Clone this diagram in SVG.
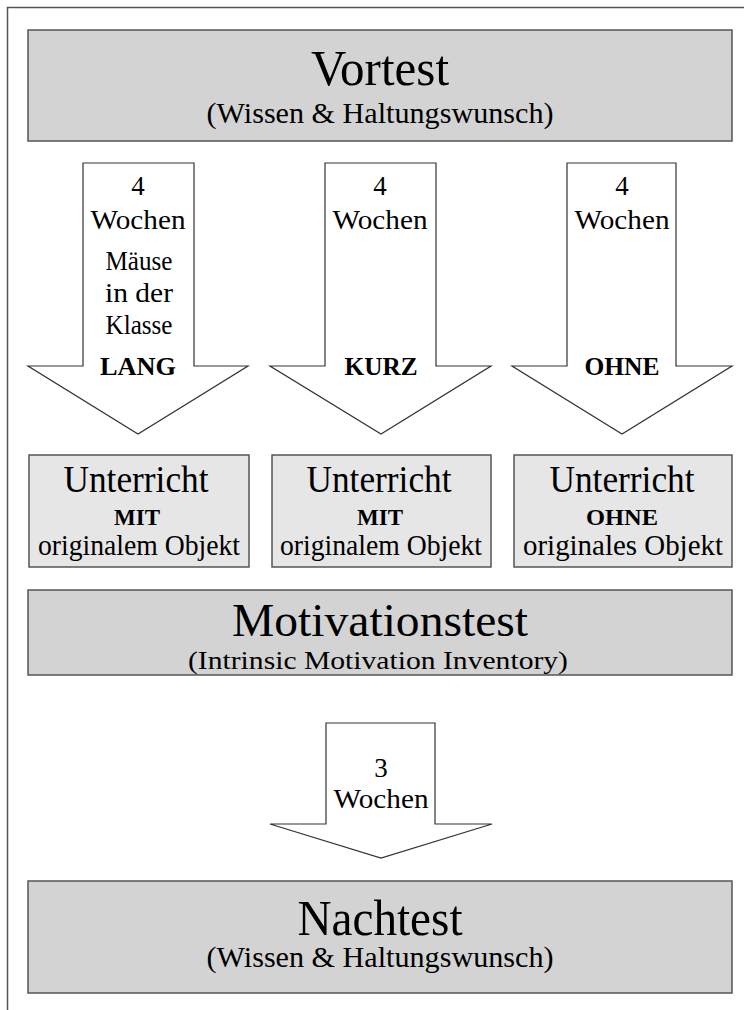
<svg xmlns="http://www.w3.org/2000/svg" width="744" height="1010" viewBox="0 0 744 1010">
<style>
text{font-family:"Liberation Serif","Times New Roman",serif;fill:#000;text-anchor:middle}
.big{fill:#d3d3d3;stroke:#555;stroke-width:1.5}
.mid{fill:#e6e6e6;stroke:#555;stroke-width:1.5}
.arr{fill:#fff;stroke:#333;stroke-width:1.2}
.t1{font-size:50px}
.t2{font-size:29px}
.t3{font-size:37px}
.b{font-size:24px;font-weight:bold}
.t4{font-size:29px}
.a{font-size:27px}
.ab{font-size:26px;font-weight:bold}
.m1{font-size:47px}
.m2{font-size:26px}
</style>
<rect x="0" y="0" width="744" height="1010" fill="#fff"/>
<path d="M7.5 1010 V7.5 H744" fill="none" stroke="#555" stroke-width="1.5"/>
<g id="connectors">
<path id="arrow-lang" class="arr" d="M83 163 H194 V366 H248 L138 434 L28 366 H83 Z"/>
<path id="arrow-kurz" class="arr" d="M325 163 H436 V366 H491 L381 434 L270 366 H325 Z"/>
<path id="arrow-ohne" class="arr" d="M567 163 H676 V366 H732 L622 434 L512 366 H567 Z"/>
<path id="arrow-3w" class="arr" d="M326 723 H435 V824 H492 L381 858 L270 824 H326 Z"/>
<text class="a" x="138" y="195">4</text>
<text class="a" x="138" y="229" textLength="95" lengthAdjust="spacingAndGlyphs">Wochen</text>
<text class="a" x="139" y="270" textLength="67" lengthAdjust="spacingAndGlyphs">Mäuse</text>
<text class="a" x="139" y="302" textLength="68" lengthAdjust="spacingAndGlyphs">in der</text>
<text class="a" x="139" y="334" textLength="67" lengthAdjust="spacingAndGlyphs">Klasse</text>
<text class="ab" x="138" y="375" textLength="76" lengthAdjust="spacingAndGlyphs">LANG</text>
<text class="a" x="380" y="195">4</text>
<text class="a" x="380" y="229" textLength="95" lengthAdjust="spacingAndGlyphs">Wochen</text>
<text class="ab" x="381" y="375" textLength="73" lengthAdjust="spacingAndGlyphs">KURZ</text>
<text class="a" x="622" y="195">4</text>
<text class="a" x="622" y="229" textLength="95" lengthAdjust="spacingAndGlyphs">Wochen</text>
<text class="ab" x="622" y="375" textLength="75" lengthAdjust="spacingAndGlyphs">OHNE</text>
<text class="a" x="381" y="777">3</text>
<text class="a" x="381" y="808" textLength="95" lengthAdjust="spacingAndGlyphs">Wochen</text>
</g>
<g id="vortest">
<rect class="big" x="28" y="30" width="704" height="111"/>
<text class="t1" x="380" y="85" textLength="138" lengthAdjust="spacingAndGlyphs">Vortest</text>
<text class="t2" x="380" y="123" textLength="347" lengthAdjust="spacingAndGlyphs">(Wissen &amp; Haltungswunsch)</text>
</g>
<g id="unterricht-lang">
<rect class="mid" x="29" y="455" width="220" height="112"/>
<text class="t3" x="136" y="492" textLength="145" lengthAdjust="spacingAndGlyphs">Unterricht</text>
<text class="b" x="137" y="525" textLength="46" lengthAdjust="spacingAndGlyphs">MIT</text>
<text class="t4" x="139" y="555" textLength="202" lengthAdjust="spacingAndGlyphs">originalem Objekt</text>
</g>
<g id="unterricht-kurz">
<rect class="mid" x="272" y="455" width="219" height="112"/>
<text class="t3" x="379" y="492" textLength="145" lengthAdjust="spacingAndGlyphs">Unterricht</text>
<text class="b" x="380" y="525" textLength="46" lengthAdjust="spacingAndGlyphs">MIT</text>
<text class="t4" x="381" y="555" textLength="202" lengthAdjust="spacingAndGlyphs">originalem Objekt</text>
</g>
<g id="unterricht-ohne">
<rect class="mid" x="514" y="455" width="218" height="112"/>
<text class="t3" x="622" y="492" textLength="145" lengthAdjust="spacingAndGlyphs">Unterricht</text>
<text class="b" x="622" y="525" textLength="72" lengthAdjust="spacingAndGlyphs">OHNE</text>
<text class="t4" x="623" y="555" textLength="200" lengthAdjust="spacingAndGlyphs">originales Objekt</text>
</g>
<g id="motivationstest">
<rect class="big" x="28" y="590" width="704" height="85"/>
<text class="m1" x="380" y="636" textLength="296" lengthAdjust="spacingAndGlyphs">Motivationstest</text>
<text class="m2" x="378" y="669" textLength="380" lengthAdjust="spacingAndGlyphs">(Intrinsic Motivation Inventory)</text>
</g>
<g id="nachtest">
<rect class="big" x="28" y="881" width="704" height="112"/>
<text class="t1" x="380" y="935" textLength="165" lengthAdjust="spacingAndGlyphs">Nachtest</text>
<text class="t2" x="380" y="967" textLength="347" lengthAdjust="spacingAndGlyphs">(Wissen &amp; Haltungswunsch)</text>
</g>
</svg>
